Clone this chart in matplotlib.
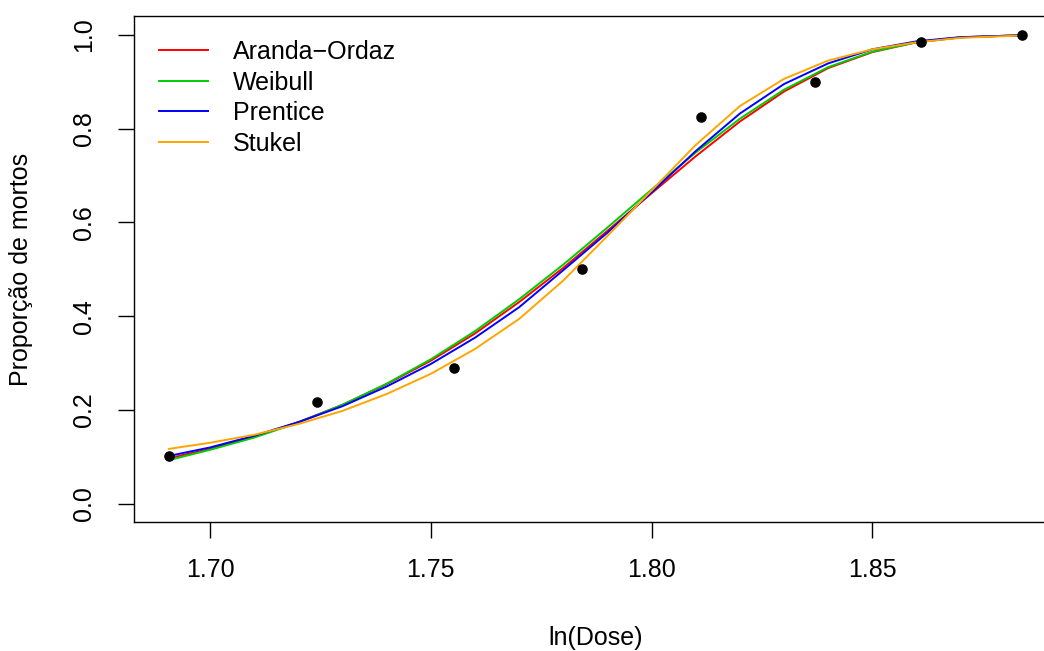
import matplotlib
matplotlib.use("Agg")
import matplotlib.pyplot as plt

plt.rcParams["font.family"] = ["Liberation Sans", "DejaVu Sans"]

# observed data
ldose = [1.6907, 1.7242, 1.7552, 1.7842, 1.8113, 1.8369, 1.8610, 1.8839]
prop = [0.1017, 0.2167, 0.2903, 0.5000, 0.8254, 0.8983, 0.9839, 1.0000]

# fitted curves
xgrid = [1.6907, 1.70, 1.71, 1.72, 1.73, 1.74, 1.75, 1.76, 1.77, 1.78,
         1.79, 1.80, 1.81, 1.82, 1.83, 1.84, 1.85, 1.86, 1.87, 1.8839]
aranda = [0.097, 0.117, 0.143, 0.174, 0.211, 0.255, 0.305, 0.363, 0.430, 0.503,
          0.582, 0.662, 0.741, 0.815, 0.879, 0.929, 0.963, 0.984, 0.9945, 0.9992]
weibull = [0.093, 0.115, 0.141, 0.173, 0.211, 0.256, 0.308, 0.368, 0.436, 0.510,
           0.589, 0.670, 0.749, 0.821, 0.883, 0.931, 0.964, 0.984, 0.9944, 0.9991]
prentice = [0.102, 0.120, 0.145, 0.174, 0.208, 0.250, 0.298, 0.354, 0.419, 0.498,
            0.578, 0.664, 0.752, 0.832, 0.895, 0.939, 0.969, 0.986, 0.9950, 0.9990]
stukel = [0.117, 0.130, 0.147, 0.170, 0.198, 0.234, 0.277, 0.330, 0.394, 0.476,
          0.571, 0.668, 0.765, 0.848, 0.906, 0.945, 0.969, 0.984, 0.9935, 0.9985]

curves = [("Aranda\u2212Ordaz", aranda, "red"),
          ("Weibull", weibull, "#00CD00"),
          ("Prentice", prentice, "blue"),
          ("Stukel", stukel, "orange")]

fig = plt.figure(figsize=(10.44, 6.51), dpi=100)
# plot region runs past the right edge of the image, as in the original
ax = fig.add_axes([0.1287, 0.1974, 0.883, 0.778])

ax.scatter(ldose, prop, s=58, c="black", zorder=3, linewidths=0)
for name, vals, col in curves:
    ax.plot(xgrid, vals, color=col, lw=1.4, label=name)

ax.set_xlim(1.68286, 1.89164)
ax.set_ylim(-0.04, 1.04)
ax.set_xticks([1.70, 1.75, 1.80, 1.85])
ax.set_xticklabels(["1.70", "1.75", "1.80", "1.85"])
ax.set_yticks([0.0, 0.2, 0.4, 0.6, 0.8, 1.0])
ax.set_yticklabels(["0.0", "0.2", "0.4", "0.6", "0.8", "1.0"], rotation=90, va="center")
ax.tick_params(direction="out", length=11.5, width=1, labelsize=18)
ax.tick_params(axis="x", pad=14)
ax.tick_params(axis="y", pad=16)
for sp in ax.spines.values():
    sp.set_linewidth(1)

ax.set_xlabel("ln(Dose)", fontsize=18, labelpad=32)
ax.set_ylabel("Proporção de mortos", fontsize=18, labelpad=28)

ax.legend(loc="upper left", frameon=False, fontsize=18, handlelength=1.96,
          handletextpad=1.0, labelspacing=0.26, borderpad=0,
          bbox_to_anchor=(0.013, 0.977))

fig.savefig("out.png", dpi=100)
